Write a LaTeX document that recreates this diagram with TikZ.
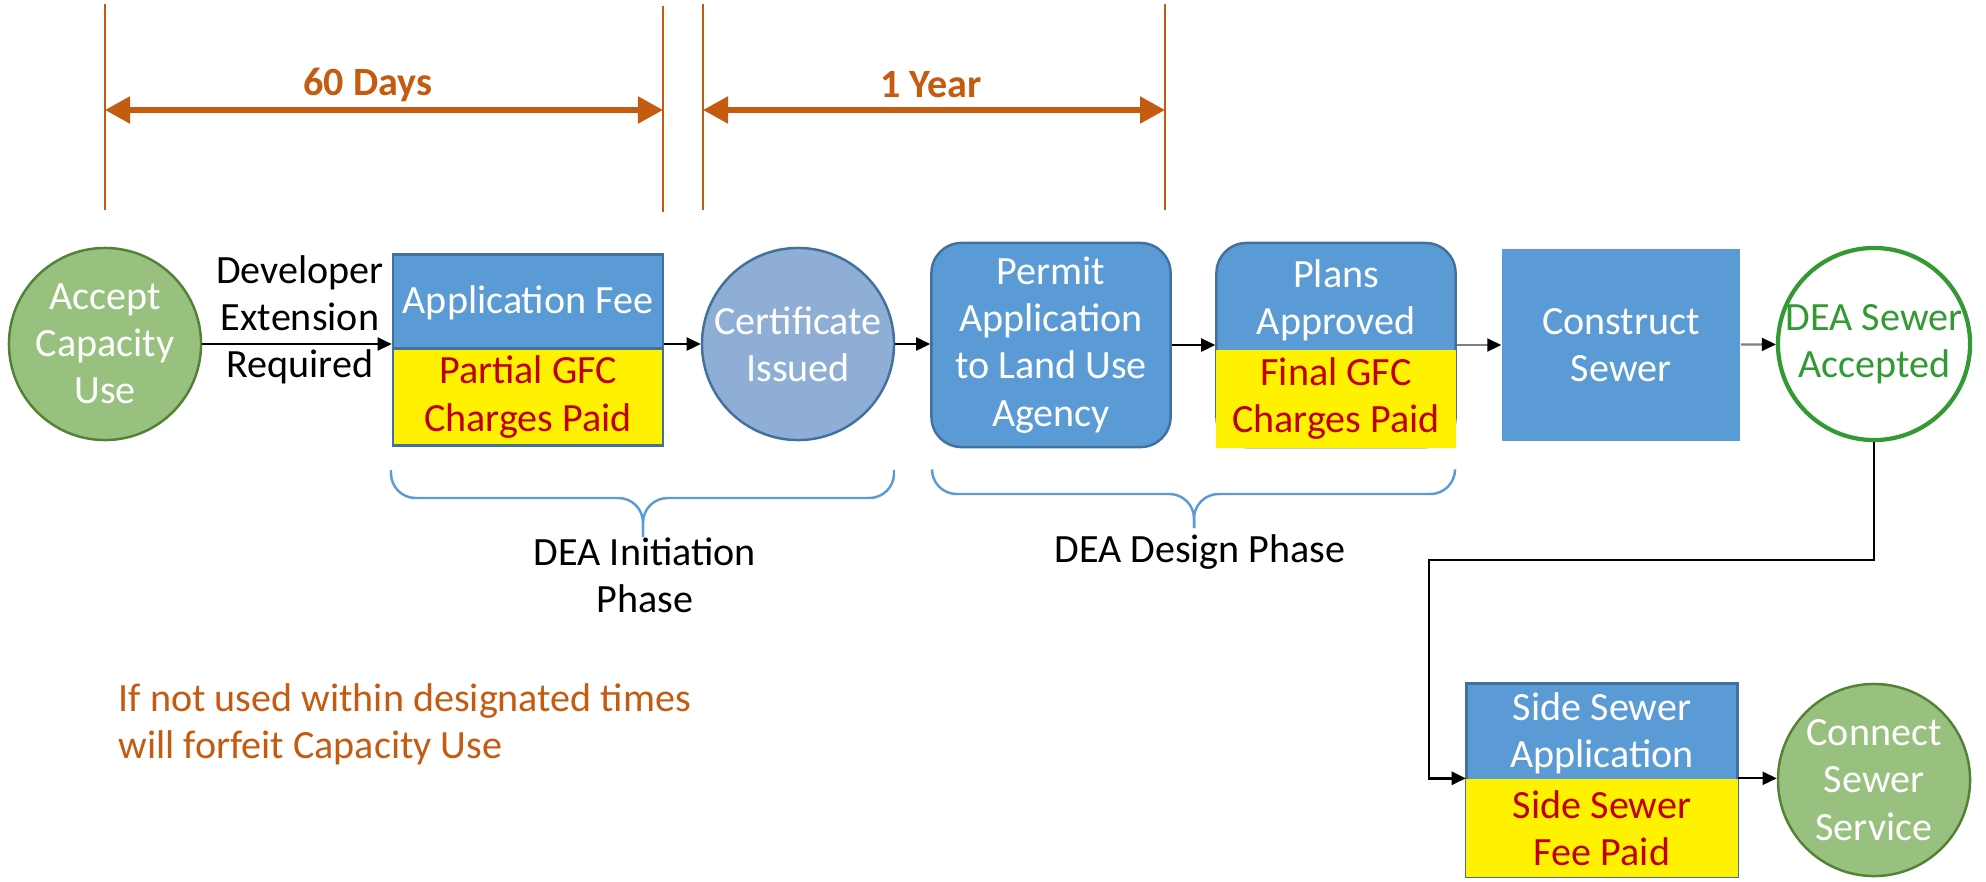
\documentclass[tikz,border=0pt]{standalone}
\usepackage{fontspec}
\setmainfont{Carlito}
\usetikzlibrary{positioning,arrows.meta}

\definecolor{stepblue}{HTML}{5B9BD5}
\definecolor{stepedge}{HTML}{41719C}
\definecolor{certblue}{HTML}{8EAED6}
\definecolor{startgreen}{HTML}{98C17F}
\definecolor{startedge}{HTML}{548235}
\definecolor{okgreen}{HTML}{339933}
\definecolor{paidred}{HTML}{C00000}
\definecolor{timeorange}{HTML}{C55A11}

\begin{document}
\begin{tikzpicture}[x=0.01cm, y=-0.01cm,
    every node/.style={font=\fontsize{11.4}{13.4}\selectfont, align=center, inner sep=0pt},
    flow/.style={draw=black, line width=0.7pt, -{Triangle[length=0.14cm,width=0.13cm]}},
    greyflow/.style={draw=black!50, line width=0.6pt, -{Triangle[length=0.14cm,width=0.13cm,color=black]}},
    span/.style={draw=timeorange, line width=1.5pt, {Triangle[length=0.25cm,width=0.26cm]}-{Triangle[length=0.25cm,width=0.26cm]}},
    spanlabel/.style={text=timeorange, font=\bfseries\fontsize{11.4}{13.4}\selectfont},
    timeline/.style={draw=timeorange, line width=0.6pt},
    stage/.style={circle, minimum size=1.92cm, text=white, line width=0.7pt},
    bluebox/.style={rectangle, fill=stepblue, draw=stepedge, text=white, line width=0.7pt},
    paid/.style={rectangle, fill=yellow, text=paidred},
    phase/.style={draw=stepblue, line width=0.7pt, rounded corners=7pt}]
    \useasboundingbox (0,0) rectangle (1986,881);

    % time limits
    \draw[timeline] (105,4) -- (105,210);
    \draw[timeline] (663,6) -- (663,212);
    \draw[timeline] (703,4) -- (703,210);
    \draw[timeline] (1165,4) -- (1165,210);
    \coordinate (t0) at (105,110);
    \coordinate (t1) at (663,110);
    \coordinate (t2) at (703,110);
    \coordinate (t3) at (1165,110);
    \draw[span] (t0) -- (t1);
    \draw[span] (t2) -- (t3);
    \node[spanlabel] (sixtydays) at (368,85) {60 Days};
    \node[spanlabel] (oneyear) at (931,85) {1 Year};

    % main row
    \node[stage, fill=startgreen, draw=startedge] (accept) at (105,344) {Accept\\Capacity\\Use};
    \node (extension) at (300,320) {Developer\\Extension\\Required};
    \node[bluebox, minimum width=2.70cm, minimum height=1.91cm] (appfee) at (528,350) {};
    \node[paid, draw=stepedge, line width=0.7pt, anchor=south, minimum width=2.70cm, minimum height=0.97cm] (appfeepaid) at (appfee.south) {Partial GFC\\Charges Paid};
    \node[text=white] (appfeetitle) at (528,303) {Application Fee};
    \node[stage, fill=certblue, draw=stepedge] (certificate) at (798,344) {Certificate\\Issued};
    \node[bluebox, rounded corners=0.3cm, minimum width=2.39cm, minimum height=2.04cm] (permit) at (1051,345) {Permit\\Application\\to Land Use\\Agency};
    \node[bluebox, rounded corners=0.3cm, minimum width=2.39cm, minimum height=2.04cm] (plans) at (1336,345) {};
    \node[paid, anchor=south, minimum width=2.39cm, minimum height=0.98cm] (planspaid) at (plans.south) {Final GFC\\Charges Paid};
    \node[text=white] (planstitle) at (1336,300) {Plans\\Approved};
    \node[rectangle, fill=stepblue, text=white, minimum width=2.38cm, minimum height=1.91cm] (construct) at (1621,345) {Construct\\Sewer};
    \node[stage, fill=white, draw=okgreen, line width=1.2pt, text=okgreen] (accepted) at (1874,344) {\makebox[0pt]{DEA Sewer}\\Accepted};

    % side sewer row
    \node[bluebox, minimum width=2.71cm, minimum height=1.93cm] (sidesewer) at (1602,780) {};
    \node[paid, anchor=south, minimum width=2.71cm, minimum height=0.98cm] (sidesewerpaid) at (sidesewer.south) {Side Sewer\\Fee Paid};
    \node[text=white] (sidesewertitle) at (1602,733) {Side Sewer\\Application};
    \node[stage, fill=startgreen, draw=startedge] (connect) at (1874,780) {Connect\\Sewer\\Service};

    \draw[flow] (accept) -- (accept -| appfee.west);
    \draw[flow] (appfee.east |- certificate) -- (certificate);
    \draw[flow] (certificate) -- (certificate -| permit.west);
    \draw[flow] (permit) -- (plans);
    \draw[greyflow] (plans) -- (construct);
    \draw[greyflow] (construct) -- (accepted);
    \coordinate (turn) at (1429,560);
    \draw[flow] (accepted.south) |- (turn) |- (sidesewerpaid.north west);
    \draw[flow, line width=0.5pt] (sidesewerpaid.north east) -- (sidesewerpaid.north east -| connect.west);

    % phases
    \draw[phase] (391,470) -- (391,498) -- (643,498) -- (643,537);
    \draw[phase] (894,470) -- (894,498) -- (643,498) -- (643,537);
    \draw[phase] (932,470) -- (932,494) -- (1194,494) -- (1194,528);
    \draw[phase] (1455,470) -- (1455,494) -- (1194,494) -- (1194,528);
    \node (initiation) at (645,575) {DEA Initiation\\Phase};
    \node (design) at (1200,552) {DEA Design Phase};

    \node[text=timeorange, align=left, anchor=west] (forfeit) at (118,724) {If not used within designated times\\will forfeit Capacity Use};
\end{tikzpicture}
\end{document}
